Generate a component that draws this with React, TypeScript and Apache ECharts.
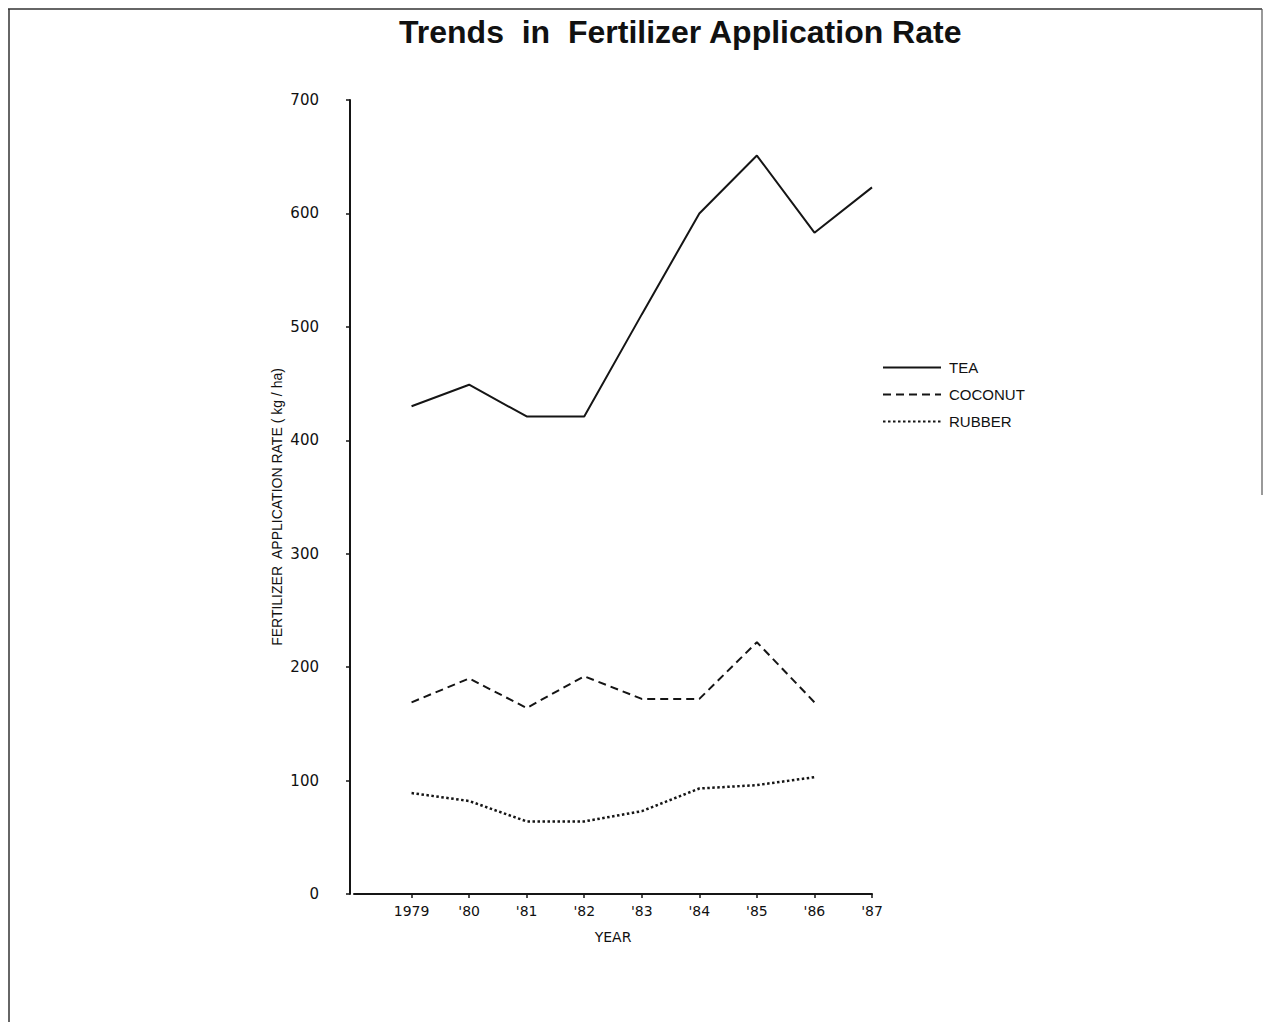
import React, { useEffect, useRef } from "react";
import * as echarts from "echarts";

const TITLE = "Trends  in  Fertilizer Application Rate";
const Y_NAME = "FERTILIZER  APPLICATION RATE ( kg / ha)";
const X_NAME = "YEAR";
const YEARS = [1979, 1980, 1981, 1982, 1983, 1984, 1985, 1986, 1987];
const X_LABELS = ["1979", "'80", "'81", "'82", "'83", "'84", "'85", "'86", "'87"];
const TEA = [430, 449, 421, 421, 511, 600, 651, 583, 623];
const COCONUT = [169, 190, 164, 192, 172, 172, 222, 169];
const RUBBER = [89, 82, 64, 64, 73, 93, 96, 103];
const SERIES_NAMES = ["TEA", "COCONUT", "RUBBER"];

const INK = "#151515";

export default function App() {
  const ref = useRef<HTMLDivElement>(null);
  useEffect(() => {
    if (!ref.current) return;
    const chart = echarts.init(ref.current, undefined, { renderer: "svg" });
    const pair = (vals: number[]) => vals.map((v, i) => [YEARS[i], v]);
    const labelFor = (v: number) => {
      const i = YEARS.indexOf(Math.round(v));
      return i >= 0 ? X_LABELS[i] : "";
    };
    chart.setOption({
      animation: false,
      backgroundColor: "#ffffff",
      title: {
        text: TITLE,
        left: 399,
        top: 16,
        padding: 0,
        textStyle: {
          fontFamily: "Liberation Sans",
          fontWeight: "bold",
          fontSize: 32,
          color: "#111",
        },
      },
      graphic: [
        { type: "line", shape: { x1: 8, y1: 9, x2: 1262, y2: 9 }, style: { stroke: "#333", lineWidth: 1.5 } },
        { type: "line", shape: { x1: 9, y1: 9, x2: 9, y2: 1022 }, style: { stroke: "#333", lineWidth: 1.5 } },
        { type: "line", shape: { x1: 1262, y1: 9, x2: 1262, y2: 495 }, style: { stroke: "#555", lineWidth: 1.2 } },
      ],
      legend: {
        orient: "vertical",
        left: 877,
        top: 355,
        itemWidth: 58,
        itemHeight: 10,
        itemGap: 12,
        itemStyle: { opacity: 0 },
        textStyle: { fontFamily: "Liberation Sans", fontSize: 15, color: "#111", padding: [0, 0, 0, 3] },
        data: SERIES_NAMES,
      },
      grid: { left: 354, right: 393, top: 100, bottom: 128, containLabel: false },
      xAxis: {
        type: "value",
        min: 1978,
        max: 1987,
        interval: 1,
        name: X_NAME,
        nameLocation: "middle",
        nameGap: 36,
        nameTextStyle: { fontFamily: "DejaVu Sans", fontSize: 14, color: "#111" },
        axisLine: { show: true, lineStyle: { color: INK, width: 2 } },
        axisTick: { show: true, inside: false, length: 4, customValues: YEARS, lineStyle: { color: INK, width: 1.5 } },
        axisLabel: {
          customValues: YEARS,
          formatter: labelFor,
          margin: 10,
          fontFamily: "DejaVu Sans",
          fontSize: 14,
          color: "#111",
        },
        splitLine: { show: false },
      },
      yAxis: {
        type: "value",
        min: 0,
        max: 700,
        interval: 100,
        offset: 4,
        name: Y_NAME,
        nameLocation: "middle",
        nameGap: 66,
        nameRotate: 90,
        nameTextStyle: { fontFamily: "Liberation Sans", fontSize: 14, color: "#111", padding: [0, 20, 0, 0] },
        axisLine: { show: true, lineStyle: { color: INK, width: 2 } },
        axisTick: { show: true, inside: false, length: 4, lineStyle: { color: INK, width: 1.5 } },
        axisLabel: { margin: 31, fontFamily: "DejaVu Sans", fontSize: 15, color: "#111" },
        splitLine: { show: false },
      },
      series: [
        {
          name: SERIES_NAMES[0],
          type: "line",
          data: pair(TEA),
          symbol: "none",
          lineStyle: { color: INK, width: 2, type: "solid" },
          itemStyle: { color: INK },
        },
        {
          name: SERIES_NAMES[1],
          type: "line",
          data: pair(COCONUT),
          symbol: "none",
          lineStyle: { color: INK, width: 2, type: [8, 5] },
          itemStyle: { color: INK },
        },
        {
          name: SERIES_NAMES[2],
          type: "line",
          data: pair(RUBBER),
          symbol: "none",
          lineStyle: { color: INK, width: 2.5, type: [2.5, 2.5] },
          itemStyle: { color: INK },
        },
      ],
    });
    return () => chart.dispose();
  }, []);
  return (
    <div
      ref={ref}
      style={{ position: "absolute", left: 0, top: 0, width: 1265, height: 1022 }}
    />
  );
}
